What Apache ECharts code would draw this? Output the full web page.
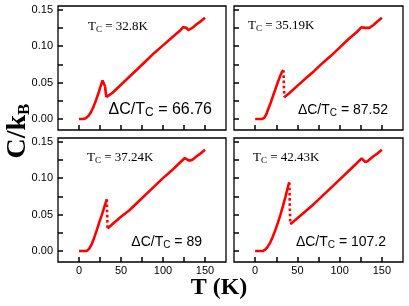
<!DOCTYPE html>
<html>
<head>
<meta charset="utf-8">
<script src="https://cdn.jsdelivr.net/npm/echarts@6/dist/echarts.min.js"></script>
<style>
html,body{margin:0;padding:0;background:#fff;}
#c{width:409px;height:306px;}
</style>
</head>
<body>
<div id="c"></div>
<script>
// ---- tick values / labels ----
var xTickValues = [0, 25, 50, 75, 100, 125, 150];
var xLabelValues = [0, 50, 100, 150];
var yTickValues = [0, 0.025, 0.05, 0.075, 0.1, 0.125, 0.15];
var yLabelValues = [0, 0.05, 0.10, 0.15];

// ---- panel texts ----
var tcValues = ['32.8K', '35.19K', '37.24K', '42.43K'];
var ratioValues = ['66.76', '87.52', '89', '107.2'];

// ---- data: panel 1 (Tc = 32.8K) ----
var p1T = [0, 5, 8, 11, 14, 17, 20, 23, 26, 28, 29.5, 31, 32.5, 34, 40, 50, 60, 70, 80, 90, 100, 110, 120, 124, 126, 128, 130, 131.5, 135, 140, 145, 150];
var p1C = [0, 0, 0.001, 0.004, 0.009, 0.016, 0.025, 0.035, 0.046, 0.053, 0.055, 0.045, 0.030, 0.030, 0.036, 0.047, 0.058, 0.069, 0.080, 0.091, 0.101, 0.111, 0.121, 0.126, 0.127, 0.125, 0.122, 0.1215, 0.125, 0.130, 0.134, 0.139];
var p1Peak = 11;

// ---- data: panel 2 (Tc = 35.19K) ----
var p2T = [0, 8, 11, 13, 15, 18, 21, 24, 27, 30, 32, 33.5, 34.5, 36, 40, 50, 60, 70, 80, 90, 100, 110, 120, 126, 128, 130, 132, 135, 140, 145, 150];
var p2C = [0, 0, 0.002, 0.006, 0.012, 0.021, 0.031, 0.041, 0.051, 0.060, 0.065, 0.067, 0.030, 0.031, 0.035, 0.0455, 0.056, 0.066, 0.077, 0.087, 0.098, 0.109, 0.119, 0.126, 0.128, 0.125, 0.1225, 0.125, 0.129, 0.134, 0.139];
var p2Peak = 11;

// ---- data: panel 3 (Tc = 37.24K) ----
var p3T = [0, 9, 12, 15, 18, 21, 24, 27, 30, 32, 33, 34, 36, 40, 50, 60, 70, 80, 90, 100, 110, 120, 126, 128, 131, 133, 135, 140, 145, 150];
var p3C = [0, 0, 0.003, 0.009, 0.018, 0.028, 0.039, 0.049, 0.060, 0.067, 0.071, 0.031, 0.032, 0.037, 0.047, 0.056, 0.067, 0.078, 0.089, 0.100, 0.110, 0.121, 0.1275, 0.127, 0.124, 0.123, 0.125, 0.130, 0.134, 0.139];
var p3Peak = 10;

// ---- data: panel 4 (Tc = 42.43K) ----
var p4T = [0, 9, 12, 15, 18, 21, 24, 27, 30, 33, 36, 38, 40, 40.5, 41.5, 44, 50, 60, 70, 80, 90, 100, 110, 120, 126, 128, 130.5, 133, 135, 140, 145, 150];
var p4C = [0, 0, 0.002, 0.006, 0.012, 0.020, 0.029, 0.039, 0.050, 0.062, 0.075, 0.084, 0.093, 0.094, 0.037, 0.039, 0.045, 0.055, 0.065, 0.076, 0.087, 0.098, 0.109, 0.120, 0.127, 0.1255, 0.122, 0.123, 0.125, 0.130, 0.134, 0.139];
var p4Peak = 13;

var panels = [
  {T: p1T, C: p1C, peak: p1Peak, dropType: 'solid'},
  {T: p2T, C: p2C, peak: p2Peak, dropType: 'dotted'},
  {T: p3T, C: p3C, peak: p3Peak, dropType: 'dotted'},
  {T: p4T, C: p4C, peak: p4Peak, dropType: 'dotted'}
];

var grids = [
  {left: 58, top: 6, width: 168, height: 124},
  {left: 234, top: 6, width: 169, height: 124},
  {left: 58, top: 138, width: 168, height: 124},
  {left: 234, top: 138, width: 169, height: 124}
];

var RED = '#ff0000';
var TICK = '#000000';
var sansFont = '"Liberation Sans", Arial, sans-serif';
var serifFont = '"Liberation Serif", "Times New Roman", serif';

function pairs(T, C, a, b) {
  var out = [];
  for (var i = a; i <= b; i++) out.push([T[i], C[i]]);
  return out;
}

var xAxes = [], yAxes = [], series = [];
grids.forEach(function (g, i) {
  g.show = true;
  g.borderColor = '#000';
  g.borderWidth = 1.3;
  g.containLabel = false;
  var bottomRow = i >= 2, leftCol = (i % 2) === 0;
  xAxes.push({
    type: 'value', gridIndex: i, min: -25, max: 175,
    axisLine: {show: false, onZero: false},
    splitLine: {show: false},
    axisTick: {show: true, inside: true, length: 5, customValues: xTickValues,
      lineStyle: {color: TICK, width: 1.5}},
    axisLabel: {show: bottomRow, customValues: xLabelValues, margin: 3,
      fontSize: 11, fontFamily: sansFont, color: '#000'}
  });
  yAxes.push({
    type: 'value', gridIndex: i, min: -0.015, max: 0.155,
    axisLine: {show: false, onZero: false},
    splitLine: {show: false},
    axisTick: {show: true, inside: true, length: 5, customValues: yTickValues,
      lineStyle: {color: TICK, width: 1.5}},
    axisLabel: {show: leftCol, customValues: yLabelValues, margin: 5,
      fontSize: 11, fontFamily: sansFont, color: '#000',
      formatter: function (v) { return v.toFixed(2); }}
  });
  var p = panels[i];
  var n = p.T.length - 1;
  var base = {type: 'line', xAxisIndex: i, yAxisIndex: i, showSymbol: false,
    symbol: 'none', animation: false, silent: true};
  series.push(Object.assign({}, base, {data: pairs(p.T, p.C, 0, p.peak),
    lineStyle: {color: RED, width: 2.6}}));
  series.push(Object.assign({}, base, {data: pairs(p.T, p.C, p.peak, p.peak + 1),
    lineStyle: {color: RED, width: 2.6, type: p.dropType}}));
  series.push(Object.assign({}, base, {data: pairs(p.T, p.C, p.peak + 1, n),
    lineStyle: {color: RED, width: 2.6}}));
});

// annotation placement (pixel anchors of text blocks)
var tcPos = [[88, 27], [248, 26], [87, 158], [253, 158]];
var ratioPos = [[212, 110], [388, 110], [202, 242], [386, 242]];
var ratioSize = [16, 14, 14, 14];

var graphics = [];
tcValues.forEach(function (v, i) {
  graphics.push({
    type: 'text', x: tcPos[i][0], y: tcPos[i][1], silent: true,
    style: {
      text: '{m|T}{s|C}{m| = ' + v + '}',
      textAlign: 'left', textVerticalAlign: 'middle',
      rich: {
        m: {fontFamily: serifFont, fontSize: 13, fill: '#000', color: '#000', lineHeight: 15},
        s: {fontFamily: serifFont, fontSize: 9, fill: '#000', color: '#000', lineHeight: 9, verticalAlign: 'bottom'}
      }
    }
  });
});
ratioValues.forEach(function (v, i) {
  var fs = ratioSize[i];
  graphics.push({
    type: 'text', x: ratioPos[i][0], y: ratioPos[i][1], silent: true,
    style: {
      text: '{m|\u0394C/T}{s|C}{m| = ' + v + '}',
      textAlign: 'right', textVerticalAlign: 'middle',
      rich: {
        m: {fontFamily: sansFont, fontSize: fs, fill: '#000', color: '#000', lineHeight: fs + 2},
        s: {fontFamily: sansFont, fontSize: Math.round(fs * 0.72), fill: '#000', color: '#000', lineHeight: Math.round(fs * 0.72), verticalAlign: 'bottom'}
      }
    }
  });
});
// axis titles
graphics.push({
  type: 'text', x: 18, y: 131, rotation: Math.PI / 2, silent: true,
  style: {
    text: '{m|C/k}{s|B}',
    textAlign: 'center', textVerticalAlign: 'middle',
    rich: {
      m: {fontFamily: serifFont, fontSize: 28, fontWeight: 'bold', fill: '#000', color: '#000', lineHeight: 30},
      s: {fontFamily: serifFont, fontSize: 17, fontWeight: 'bold', fill: '#000', color: '#000', lineHeight: 17, verticalAlign: 'bottom'}
    }
  }
});
graphics.push({
  type: 'text', x: 219, y: 288, silent: true,
  style: {
    text: 'T (K)', fontFamily: serifFont, fontSize: 24, fontWeight: 'bold', fill: '#000',
    textAlign: 'center', textVerticalAlign: 'middle'
  }
});

var chart = echarts.init(document.getElementById('c'), null, {renderer: 'canvas', width: 409, height: 306});
chart.setOption({
  animation: false,
  backgroundColor: '#fff',
  grid: grids,
  xAxis: xAxes,
  yAxis: yAxes,
  series: series,
  graphic: {elements: graphics}
});
</script>
</body>
</html>
